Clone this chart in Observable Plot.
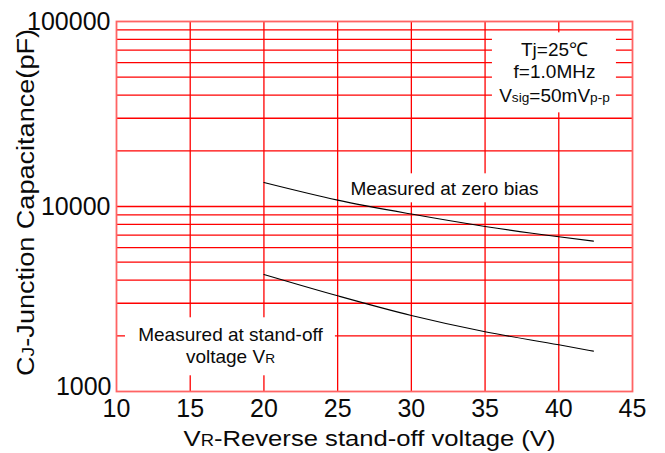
<!DOCTYPE html>
<html>
<head>
<meta charset="utf-8">
<script src="https://cdn.jsdelivr.net/npm/d3@7"></script>
<script src="https://cdn.jsdelivr.net/npm/@observablehq/plot@0.6"></script>
<style>
  html, body { margin: 0; padding: 0; background: #fff; }
</style>
</head>
<body>
<div id="chart"></div>
<script>
// ---- data ----
const voltage = [20, 25, 30, 35, 40, 42.35];
const zeroBias = [13480, 10830, 9100, 7800, 6860, 6500];
const standOff = [4290, 3290, 2575, 2103, 1788, 1653];

const xTicks = [10, 15, 20, 25, 30, 35, 40, 45];
const xGrid = [15, 20, 25, 30, 35, 40];
const yMajor = [1000, 10000, 100000];
const yGrid = [2000, 3000, 4000, 5000, 6000, 7000, 8000, 9000, 10000,
               20000, 30000, 40000, 50000, 60000, 70000, 80000, 90000];

const xTitle = "V_{R}-Reverse stand-off voltage (V)";
const yTitle = "C_{J}-Junction Capacitance(pF)";
const zeroLabel = ["Measured at zero bias"];
const standLabel1 = ["Measured at stand-off"];
const standLabel2 = ["voltage V_{R}"];
const cond1 = ["Tj=25℃"];
const cond2 = ["f=1.0MHz"];
const cond3 = ["V_{sig}=50mV_{p-p}"];

const rows = (ys) => voltage.map((v, i) => ({v, c: ys[i]}));

const FONT = "'Liberation Sans', Arial, Helvetica, sans-serif";
const INK = "#0a0a0a";

const plot = Plot.plot({
  width: 665,
  height: 453,
  marginLeft: 116,
  marginRight: 33,
  marginTop: 21,
  marginBottom: 62,
  style: {fontFamily: FONT, background: "white", color: INK},
  x: {domain: [10, 45], axis: null},
  y: {type: "log", domain: [1000, 100000], axis: null},
  marks: [
    Plot.ruleX(xGrid, {stroke: "#ff0000", strokeWidth: 1.3}),
    Plot.ruleY(yGrid, {stroke: "#ff0000", strokeWidth: 1.3}),
    // white label backgrounds that cut the grid
    Plot.rect([0], {x1: 35.5, x2: 43.91, y1: 86850, y2: 32080, fill: "white"}),
    Plot.rect([0], {x1: 25.53, x2: 39.1, y1: 15020, y2: 10470, fill: "white"}),
    Plot.rect([0], {x1: 10.61, x2: 24.85, y1: 2503, y2: 1216, fill: "white"}),
    Plot.frame({stroke: "#ff6464", strokeWidth: 1.8}),
    Plot.line(rows(zeroBias), {x: "v", y: "c", stroke: "#000", strokeWidth: 1.1, curve: "monotone-x"}),
    Plot.line(rows(standOff), {x: "v", y: "c", stroke: "#000", strokeWidth: 1.1, curve: "monotone-x"}),
    // axes
    Plot.axisX({ticks: xTicks, tickSize: 0, tickPadding: 8, fontSize: 25, label: null, fill: INK, tickFormat: d => String(d)}),
    Plot.axisY({ticks: yMajor.slice(1), tickSize: 0, tickPadding: 6, fontSize: 25, label: null, fill: INK, tickFormat: d => String(d)}),
    Plot.axisY({ticks: yMajor.slice(0, 1), tickSize: 0, tickPadding: 5, fontSize: 25, label: null, fill: INK, dy: -5, tickFormat: d => String(d)}),
    // axis titles
    Plot.text([xTitle], {text: d => d, frameAnchor: "bottom", textAnchor: "middle", lineAnchor: "bottom", dy: 54, dx: -5, fontSize: 22, fill: INK, className: "xtitle"}),
    Plot.text([yTitle], {text: d => d, frameAnchor: "left", textAnchor: "middle", lineAnchor: "bottom", rotate: -90, dx: -83, dy: -4, fontSize: 23, fill: INK, className: "ytitle"}),
    // annotations
    Plot.text(zeroLabel, {text: d => d, x: 32.25, y: 11566, lineAnchor: "bottom", fontSize: 19, fill: INK}),
    Plot.text(standLabel1, {text: d => d, x: 17.73, y: 1879, lineAnchor: "bottom", fontSize: 19, fill: INK}),
    Plot.text(standLabel2, {text: d => d, x: 17.73, y: 1424, lineAnchor: "bottom", fontSize: 19, fill: INK}),
    Plot.text(cond1, {text: d => d, x: 39.71, y: 65270, lineAnchor: "bottom", fontSize: 19, fill: INK}),
    Plot.text(cond2, {text: d => d, x: 39.71, y: 49430, lineAnchor: "bottom", fontSize: 19, fill: INK}),
    Plot.text(cond3, {text: d => d, x: 39.71, y: 36490, lineAnchor: "bottom", fontSize: 19, fill: INK})
  ]
});

// turn _{...} markup into smaller subscript tspans
d3.select(plot).selectAll("text").each(function() {
  const s = this.textContent;
  if (!s.includes("_{")) return;
  const t = d3.select(this);
  const parts = s.split(/(_\{[^}]*\})/);
  t.text(null);
  for (const p of parts) {
    if (!p) continue;
    if (p.startsWith("_{")) t.append("tspan").attr("font-size", "0.72em").text(p.slice(2, -1));
    else t.append("tspan").text(p);
  }
});
d3.select(plot).selectAll(".xtitle text").attr("textLength", 372).attr("lengthAdjust", "spacingAndGlyphs");
d3.select(plot).selectAll(".ytitle text").attr("textLength", 347).attr("lengthAdjust", "spacingAndGlyphs");

document.getElementById("chart").appendChild(plot);
</script>
</body>
</html>
